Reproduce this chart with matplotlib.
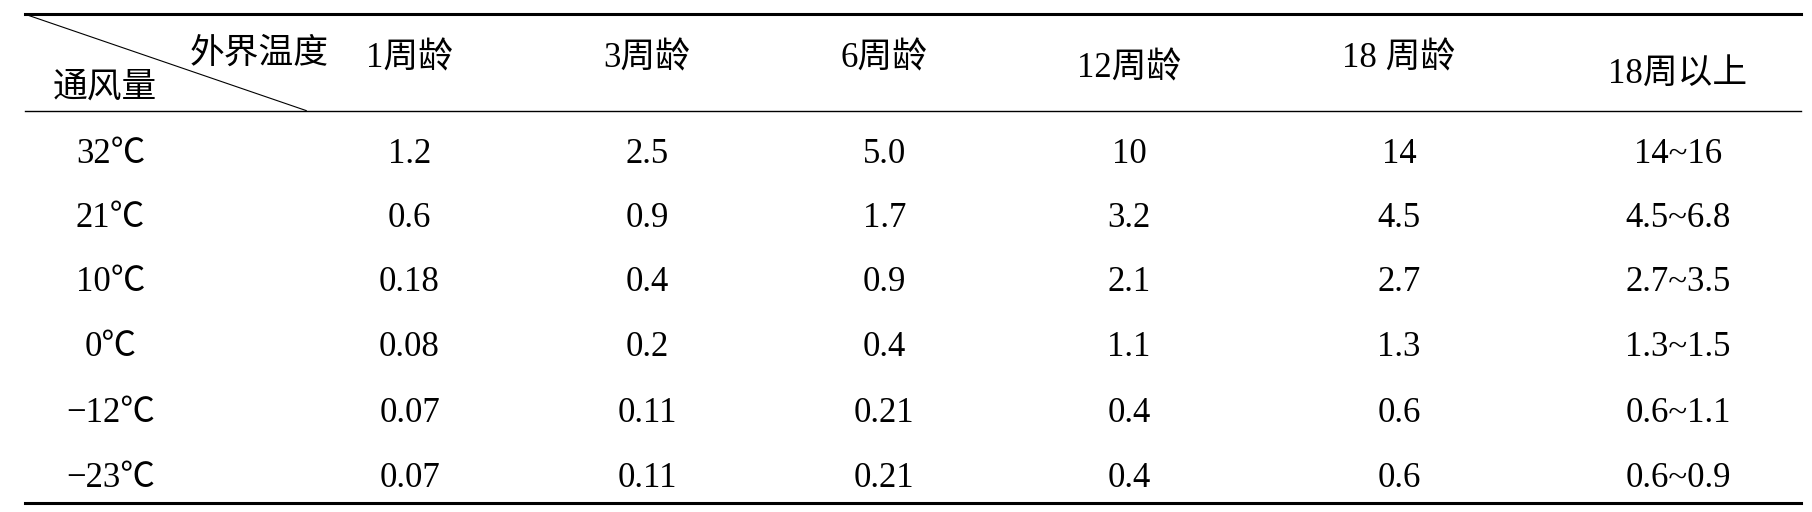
import matplotlib
matplotlib.use("Agg")
import matplotlib.pyplot as plt

plt.rcParams['font.family'] = ['Liberation Serif', 'Noto Sans CJK SC']

col_labels = ["1周龄", "3周龄", "6周龄", "12周龄", "18 周龄", "18周以上"]
row_labels = ["32℃", "21℃", "10℃", "0℃", "−12℃", "−23℃"]
values = [
    ["1.2", "2.5", "5.0", "10", "14", "14~16"],
    ["0.6", "0.9", "1.7", "3.2", "4.5", "4.5~6.8"],
    ["0.18", "0.4", "0.9", "2.1", "2.7", "2.7~3.5"],
    ["0.08", "0.2", "0.4", "1.1", "1.3", "1.3~1.5"],
    ["0.07", "0.11", "0.21", "0.4", "0.6", "0.6~1.1"],
    ["0.07", "0.11", "0.21", "0.4", "0.6", "0.6~0.9"],
]

col_x = [0.061, 0.226, 0.357, 0.488, 0.623, 0.772, 0.926]
head_y = [0.115, 0.115, 0.115, 0.135, 0.115, 0.145]
row_y = [0.302, 0.426, 0.551, 0.679, 0.807, 0.935]

fig = plt.figure(figsize=(18.12, 5.12), dpi=100)
ax = fig.add_axes([0, 0, 1, 1])
ax.set_xlim(0, 1)
ax.set_ylim(1, 0)
ax.axis('off')

left, right = 0.014, 0.994
ax.plot([left, right], [0.028, 0.028], color='black', lw=2.2)
ax.plot([left, right], [0.216, 0.216], color='black', lw=1.0)
ax.plot([left, right], [0.982, 0.982], color='black', lw=2.2)
ax.plot([left, 0.169], [0.028, 0.216], color='black', lw=0.8)

fs = 25
ax.text(0.143, 0.105, "外界温度", ha='center', va='center', fontsize=fs)
ax.text(0.058, 0.172, "通风量", ha='center', va='center', fontsize=fs)

for x, y, lab in zip(col_x[1:], head_y, col_labels):
    ax.text(x, y, lab, ha='center', va='center', fontsize=fs)

for i, (y, rl) in enumerate(zip(row_y, row_labels)):
    ax.text(col_x[0], y, rl, ha='center', va='center', fontsize=fs)
    for x, v in zip(col_x[1:], values[i]):
        ax.text(x, y, v, ha='center', va='center', fontsize=fs)

fig.savefig("out.png", dpi=100)
